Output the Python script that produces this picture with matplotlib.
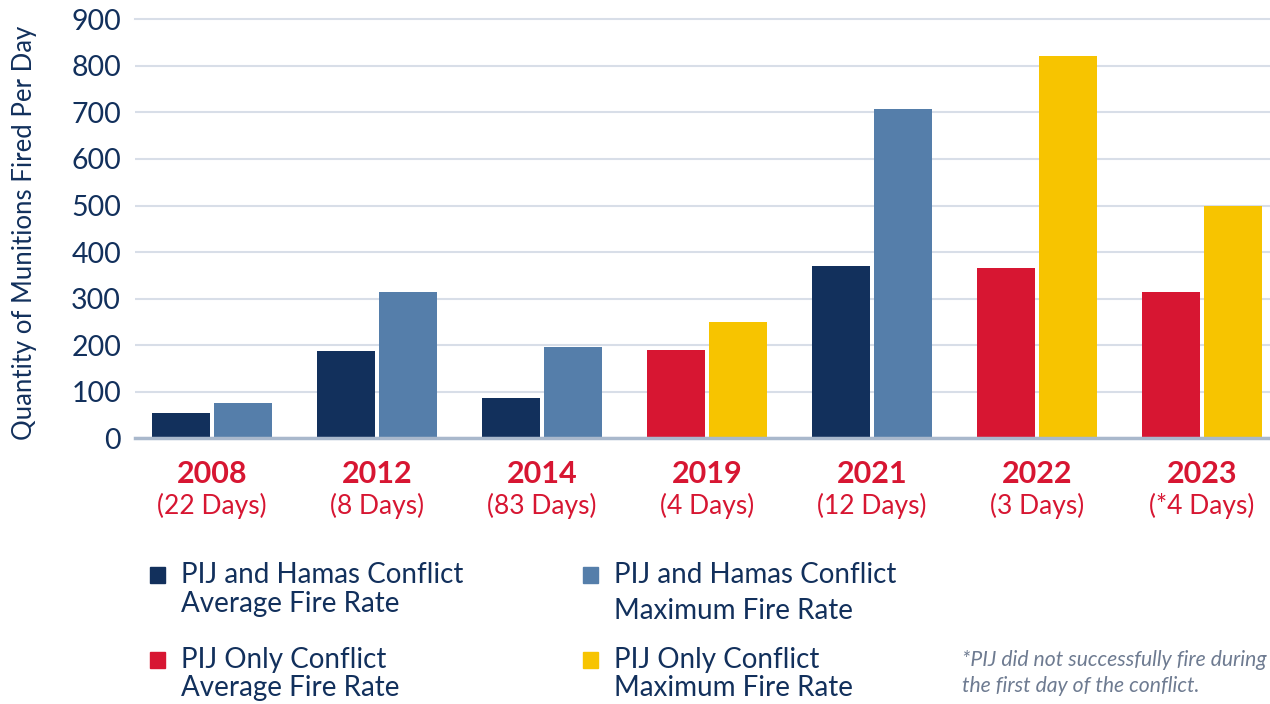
import matplotlib.pyplot as plt
from matplotlib.patches import Rectangle
import numpy as np

plt.rcParams['font.family'] = ['Lato', 'DejaVu Sans']

years = ['2008', '2012', '2014', '2019', '2021', '2022', '2023']
durations = ['(22 Days)', '(8 Days)', '(83 Days)', '(4 Days)', '(12 Days)', '(3 Days)', '(*4 Days)']
avg_rate = [55, 188, 87, 190, 370, 366, 314]
max_rate = [76, 314, 196, 250, 707, 821, 500]
# True = PIJ and Hamas conflict, False = PIJ only
joint = [True, True, True, False, True, False, False]

NAVY = '#12305C'
STEEL = '#557EAA'
RED = '#D71632'
YELLOW = '#F7C400'
TEXT = '#12305C'

fig = plt.figure(figsize=(12.7, 7.04), dpi=100)
ax = fig.add_axes([135 / 1270, 1 - 438.3 / 704, 1 - 135 / 1270, (438.3 - 19.3) / 704])

x = np.arange(len(years))
w = 58 / 165
off = 31 / 165
avg_colors = [NAVY if j else RED for j in joint]
max_colors = [STEEL if j else YELLOW for j in joint]
ax.bar(x - off, avg_rate, width=w, color=avg_colors, zorder=3)
ax.bar(x + off, max_rate, width=w, color=max_colors, zorder=3)

ax.set_xlim(-77 / 165, (1270 - 212) / 165)
ax.set_ylim(0, 900)
ax.set_yticks(range(0, 901, 100))
ax.yaxis.grid(True, color='#D8DEE8', linewidth=1.5, zorder=0)
ax.set_axisbelow(True)
for s in ['top', 'right', 'left']:
    ax.spines[s].set_visible(False)
ax.spines['bottom'].set_color('#A9B8CC')
ax.spines['bottom'].set_linewidth(2.5)
ax.spines['bottom'].set_zorder(4)
ax.tick_params(axis='y', length=0, pad=10, labelsize=20.5, labelcolor=TEXT)
ax.tick_params(axis='x', length=0)
ax.set_xticks(x)
ax.set_xticklabels([''] * len(x))
ax.yaxis.get_major_ticks()[-1].gridline.set_clip_on(False)
ax.set_ylabel('Quantity of Munitions Fired Per Day', fontsize=18.5, color=TEXT)
ax.yaxis.set_label_coords(-0.086, 0.49)

# year / duration labels under the groups
for i in range(len(years)):
    ax.text(x[i], -76, years[i], ha='center', va='center', fontsize=22, fontweight='bold', color=RED)
    ax.text(x[i], -146, durations[i], ha='center', va='center', fontsize=19, color=RED)

# legend drawn by hand
legend_items = [
    (150, 575, NAVY, ['PIJ and Hamas Conflict', 'Average Fire Rate'], 29),
    (583, 575, STEEL, ['PIJ and Hamas Conflict', 'Maximum Fire Rate'], 36),
    (150, 660, RED, ['PIJ Only Conflict', 'Average Fire Rate'], 28),
    (583, 660, YELLOW, ['PIJ Only Conflict', 'Maximum Fire Rate'], 28),
]
for px, py, col, lines, gap in legend_items:
    fig.patches.append(Rectangle((px / 1270, 1 - (py + 8) / 704), 15 / 1270, 16 / 704,
                                 transform=fig.transFigure, color=col))
    for k, line in enumerate(lines):
        fig.text((px + 31) / 1270, 1 - (py + k * gap) / 704, line, ha='left', va='center',
                 fontsize=20, color=TEXT)

fig.text(962 / 1270, 1 - 660 / 704, '*PIJ did not successfully fire during', ha='left', va='center',
         fontsize=15.2, style='italic', color='#6E7B91')
fig.text(962 / 1270, 1 - 686 / 704, 'the first day of the conflict.', ha='left', va='center',
         fontsize=15.2, style='italic', color='#6E7B91')

fig.savefig('out.png', dpi=100)
